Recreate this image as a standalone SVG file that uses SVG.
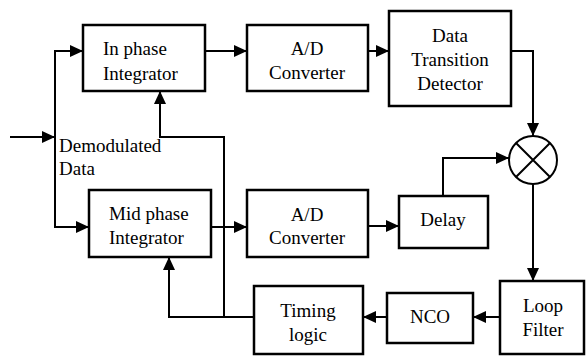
<svg xmlns="http://www.w3.org/2000/svg" width="586" height="356" viewBox="0 0 586 356">
<style>
.box{fill:#fff;stroke:#000;stroke-width:2.5}
.ln{fill:none;stroke:#000;stroke-width:2}
text{font-family:"Times New Roman",Times,"Liberation Serif","DejaVu Serif","Noto Serif",serif;font-size:19px;fill:#000}
.c{text-anchor:middle}
</style>
<defs>
<marker id="ah" markerUnits="userSpaceOnUse" markerWidth="14" markerHeight="14" refX="13" refY="7" orient="auto" viewBox="0 0 14 14">
<path d="M0,1 L13,7 L0,13 Z" fill="#000"/>
</marker>
</defs>
<g id="connectors">
<path class="ln" d="M10,137 H55" marker-end="url(#ah)"/>
<path class="ln" d="M55,137 V51 H83" marker-end="url(#ah)"/>
<path class="ln" d="M55,137 V227 H89" marker-end="url(#ah)"/>
<path class="ln" d="M205,51 H247" marker-end="url(#ah)"/>
<path class="ln" d="M368,51 H389" marker-end="url(#ah)"/>
<path class="ln" d="M511,51 H533 V136" marker-end="url(#ah)"/>
<path class="ln" d="M443,196 V158 H509" marker-end="url(#ah)"/>
<path class="ln" d="M211,227 H247" marker-end="url(#ah)"/>
<path class="ln" d="M368,226 H399" marker-end="url(#ah)"/>
<path class="ln" d="M533,184 V281" marker-end="url(#ah)"/>
<path class="ln" d="M500,317 H473" marker-end="url(#ah)"/>
<path class="ln" d="M387,317 H363" marker-end="url(#ah)"/>
<path class="ln" d="M254,317 H169 V257" marker-end="url(#ah)"/>
<path class="ln" d="M224,317 V137 H160 V91" marker-end="url(#ah)"/>
</g>
<g id="inphase"><rect class="box" x="83" y="25" width="122" height="66"/><text x="103" y="55">In phase</text><text x="103" y="80">Integrator</text></g>
<g id="ad1"><rect class="box" x="247" y="25" width="121" height="66"/><text class="c" x="307" y="55">A/D</text><text class="c" x="307" y="79">Converter</text></g>
<g id="dtd"><rect class="box" x="389" y="11" width="122" height="95"/><text class="c" x="450" y="42">Data</text><text class="c" x="450" y="66">Transition</text><text class="c" x="450" y="90">Detector</text></g>
<g id="mixer"><circle cx="533" cy="160" r="24" fill="#fff" stroke="#000" stroke-width="2"/><path class="ln" d="M516,143 L550,177 M550,143 L516,177"/></g>
<g id="midphase"><rect class="box" x="89" y="190" width="122" height="67"/><text x="109" y="220">Mid phase</text><text x="109" y="244">Integrator</text></g>
<g id="ad2"><rect class="box" x="247" y="190" width="121" height="67"/><text class="c" x="307" y="221">A/D</text><text class="c" x="307" y="244">Converter</text></g>
<g id="delay"><rect class="box" x="399" y="196" width="89" height="52"/><text class="c" x="443" y="226">Delay</text></g>
<g id="loop"><rect class="box" x="500" y="281" width="84" height="73"/><text class="c" x="543" y="312">Loop</text><text class="c" x="543" y="336">Filter</text></g>
<g id="nco"><rect class="box" x="387" y="293" width="86" height="50"/><text class="c" x="430" y="323">NCO</text></g>
<g id="timing"><rect class="box" x="254" y="286" width="109" height="68"/><text class="c" x="308" y="317">Timing</text><text class="c" x="308" y="341">logic</text></g>
<g id="label"><text x="59" y="152">Demodulated</text><text x="59" y="175">Data</text></g>
</svg>
